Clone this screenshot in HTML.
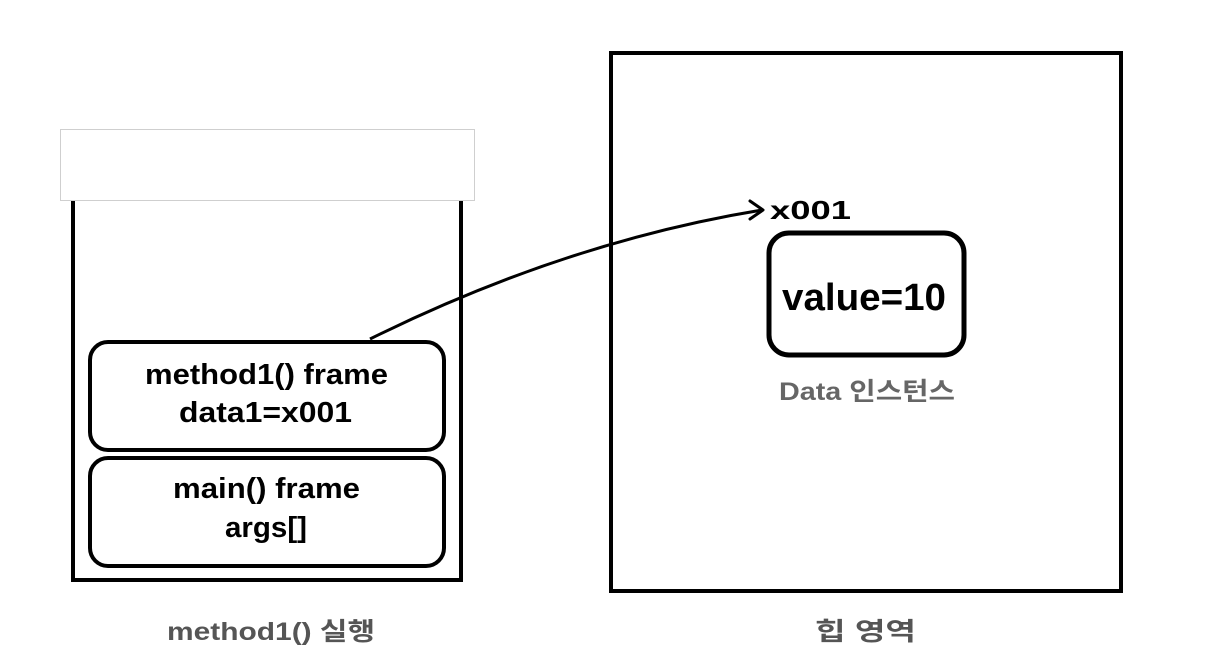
<!DOCTYPE html>
<html><head><meta charset="utf-8"><style>
html,body{margin:0;padding:0;background:#fff;}
svg{display:block}
text{font-family:"Liberation Sans","Noto Sans CJK KR",sans-serif;font-weight:bold;}
</style></head><body>
<svg width="1206" height="664" viewBox="0 0 1206 664" xmlns="http://www.w3.org/2000/svg">
<rect x="0" y="0" width="1206" height="664" fill="#fff"/>
<polyline points="73,200 73,580 461,580 461,200" fill="none" stroke="#000" stroke-width="4"/>
<rect x="60.5" y="129.5" width="414" height="71" fill="#fff" stroke="#cfcfcf" stroke-width="1"/>
<rect x="90" y="342" width="354" height="108" rx="18" fill="#fff" stroke="#000" stroke-width="4"/>
<rect x="90" y="458" width="354" height="108" rx="18" fill="#fff" stroke="#000" stroke-width="4"/>
<text x="145" y="384" font-size="29" textLength="243" lengthAdjust="spacingAndGlyphs">method1() frame</text>
<text x="179" y="422" font-size="29" textLength="173" lengthAdjust="spacingAndGlyphs">data1=x001</text>
<text x="173" y="498" font-size="29" textLength="187" lengthAdjust="spacingAndGlyphs">main() frame</text>
<text x="225" y="537" font-size="29" textLength="82" lengthAdjust="spacingAndGlyphs">args[]</text>
<rect x="611" y="53" width="510" height="538" fill="none" stroke="#000" stroke-width="4"/>
<rect x="769" y="233" width="195" height="122" rx="20" fill="#fff" stroke="#000" stroke-width="5"/>
<text x="782" y="310" font-size="38" textLength="164" lengthAdjust="spacingAndGlyphs">value=10</text>
<text x="770" y="219" font-size="26" textLength="81" lengthAdjust="spacingAndGlyphs">x001</text>
<text x="779" y="400" font-size="25" fill="#666" textLength="176" lengthAdjust="spacingAndGlyphs">Data 인스턴스</text>
<path d="M370,339 Q566,242 762,210" fill="none" stroke="#000" stroke-width="3"/>
<polyline points="750,201 763,210 750,219" fill="none" stroke="#000" stroke-width="3" stroke-linecap="round" stroke-linejoin="round"/>
<text x="167" y="640" font-size="25" fill="#555" textLength="208" lengthAdjust="spacingAndGlyphs">method1() 실행</text>
<text x="815" y="640" font-size="25" fill="#555" textLength="101" lengthAdjust="spacingAndGlyphs">힙 영역</text>
</svg>
</body></html>
